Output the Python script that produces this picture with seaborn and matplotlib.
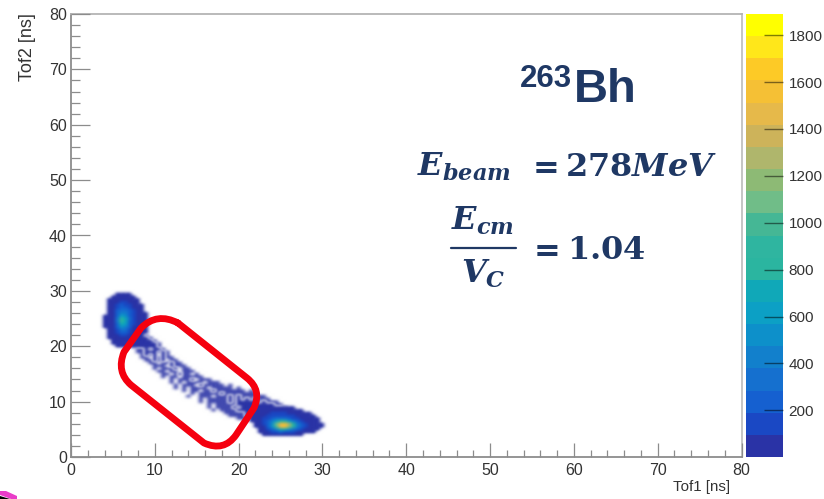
import numpy as np
import matplotlib
matplotlib.use("Agg")
import matplotlib.pyplot as plt
import seaborn as sns
from matplotlib.colors import ListedColormap
from matplotlib.patches import PathPatch, Polygon
from matplotlib.path import Path
from matplotlib.ticker import MultipleLocator
from matplotlib.transforms import Affine2D

tof_ticks = [0, 10, 20, 30, 40, 50, 60, 70, 80]
count_ticks = [200, 400, 600, 800, 1000, 1200, 1400, 1600, 1800]
count_max = 1890
bin_width = 0.5
pale_limit = 22

# first row is the highest Tof2, rows go down in 0.5 ns steps, columns right in 0.5 ns steps
blob1_tof1 = 4.0
blob1_tof2 = 29.5
blob1_counts = [
    [0, 0, 0, 4, 6, 6, 3, 0, 0, 0, 0, 0],
    [0, 0, 8, 25, 30, 28, 15, 6, 0, 0, 0, 0],
    [0, 2, 20, 60, 75, 70, 45, 18, 3, 0, 0, 0],
    [0, 4, 35, 95, 130, 120, 80, 40, 10, 0, 0, 0],
    [0, 6, 50, 130, 200, 180, 120, 60, 20, 3, 0, 0],
    [0, 8, 60, 160, 270, 250, 160, 80, 30, 6, 0, 0],
    [0, 12, 70, 200, 350, 330, 200, 100, 40, 10, 0, 0],
    [0, 15, 80, 240, 460, 430, 240, 115, 50, 15, 2, 0],
    [1, 18, 85, 270, 600, 560, 270, 125, 55, 20, 4, 0],
    [2, 20, 90, 290, 780, 700, 290, 130, 60, 25, 5, 0],
    [2, 20, 90, 290, 820, 720, 280, 125, 60, 25, 6, 0],
    [2, 18, 85, 270, 720, 600, 250, 110, 55, 25, 6, 0],
    [1, 15, 75, 230, 520, 440, 200, 95, 50, 25, 6, 0],
    [0, 12, 60, 180, 340, 290, 160, 80, 45, 20, 4, 0],
    [0, 8, 45, 130, 220, 190, 120, 65, 35, 15, 0, 0],
    [0, 5, 30, 90, 140, 120, 85, 50, 25, 8, 0, 0],
    [0, 2, 18, 60, 85, 80, 55, 35, 15, 0, 0, 0],
    [0, 0, 8, 30, 50, 48, 35, 20, 8, 0, 0, 0],
    [0, 0, 2, 12, 22, 25, 18, 10, 0, 0, 0, 0],
    [0, 0, 0, 2, 6, 8, 5, 2, 0, 0, 0, 0],
]

blob2_tof1 = 21.5
blob2_tof2 = 9.0
blob2_counts = [
    [0, 0, 0, 3, 10, 15, 18, 16, 12, 6, 2, 0],
    [0, 2, 15, 30, 45, 55, 60, 58, 48, 32, 20, 8, 2, 0],
    [3, 12, 45, 70, 95, 110, 120, 118, 105, 85, 60, 40, 22, 10, 3, 0],
    [5, 25, 70, 95, 120, 150, 175, 180, 165, 135, 105, 80, 55, 32, 15, 5, 0],
    [4, 20, 75, 110, 170, 260, 340, 370, 330, 260, 180, 125, 90, 60, 35, 15, 4, 0],
    [2, 12, 60, 120, 240, 420, 640, 780, 760, 600, 400, 230, 135, 90, 55, 30, 10, 0],
    [0, 5, 40, 110, 260, 560, 1040, 1480, 1560, 1280, 820, 460, 230, 120, 75, 45, 20, 3],
    [0, 2, 25, 85, 210, 500, 980, 1440, 1520, 1220, 780, 430, 210, 110, 65, 40, 20, 4],
    [0, 0, 10, 50, 120, 270, 470, 670, 680, 530, 350, 200, 110, 65, 40, 22, 8, 0],
    [0, 0, 2, 18, 55, 100, 150, 190, 185, 150, 105, 70, 45, 28, 14, 4, 0],
    [0, 0, 0, 2, 10, 22, 35, 40, 38, 30, 20, 12, 6, 0],
]

band_tof2 = 23.0
band_tof1 = [8.0, 8.0, 7.5, 7.5, 7.5, 7.5, 7.5, 8.0, 8.0, 8.5, 8.5, 9.0, 9.5, 9.5, 10.0, 10.5, 10.5, 11.0,
             11.5, 12.0, 12.0, 12.5, 13.0, 13.5, 14.0, 14.5, 15.0, 15.5, 16.0, 17.0, 18.0, 19.0, 20.0]
band_counts = [
    [30, 20],
    [40, 30, 25],
    [25, 45, 35, 20],
    [30, 40, 50, 35, 15],
    [15, 35, 55, 40, 30, 10],
    [12, 30, 45, 50, 30, 22, 6],
    [5, 25, 30, 45, 35, 25, 12],
    [12, 20, 40, 15, 35, 25, 8],
    [3, 18, 30, 22, 35, 10, 25, 4],
    [8, 25, 12, 30, 0, 28, 15],
    [2, 12, 0, 25, 18, 30, 8, 10],
    [6, 15, 22, 5, 30, 0, 18, 3],
    [2, 10, 0, 20, 12, 25, 6, 14],
    [0, 5, 14, 8, 0, 25, 15, 3, 6],
    [3, 0, 12, 18, 6, 22, 0, 15, 2],
    [2, 8, 0, 20, 10, 0, 18, 8, 4],
    [0, 6, 12, 0, 15, 22, 4, 14, 0, 5],
    [2, 0, 8, 14, 0, 18, 10, 20, 3, 8],
    [0, 5, 0, 12, 16, 3, 22, 0, 14, 6, 2],
    [2, 0, 7, 0, 15, 8, 20, 12, 0, 16, 4, 6],
    [0, 3, 0, 10, 4, 18, 0, 22, 10, 14, 3, 8, 2, 0, 3],
    [2, 0, 5, 0, 12, 6, 18, 14, 0, 20, 8, 15, 3, 6, 0, 2],
    [0, 2, 0, 6, 10, 0, 16, 8, 22, 12, 18, 4, 14, 6, 2, 5, 0, 2],
    [0, 0, 3, 0, 8, 12, 4, 18, 10, 24, 14, 20, 8, 16, 5, 8, 2, 3],
    [2, 0, 0, 5, 3, 10, 0, 14, 20, 9, 26, 16, 28, 12, 20, 8, 12, 4, 2],
    [0, 0, 3, 0, 6, 12, 8, 18, 14, 28, 20, 32, 18, 26, 14, 22, 8, 10, 3],
    [0, 2, 0, 4, 8, 5, 14, 10, 24, 18, 34, 28, 40, 25, 34, 18, 26, 12, 8, 2],
    [0, 0, 3, 0, 6, 10, 8, 20, 16, 30, 26, 42, 36, 48, 34, 42, 26, 30, 14, 10],
    [0, 2, 0, 4, 6, 12, 10, 24, 20, 36, 32, 50, 44, 55, 46, 50, 36, 38, 22, 14],
    [2, 0, 4, 8, 14, 12, 28, 24, 42, 38, 55, 50, 62, 55, 58, 45, 40, 25],
    [0, 3, 6, 10, 20, 18, 34, 32, 50, 48, 60, 58, 65, 60, 50, 30],
    [2, 5, 10, 16, 28, 30, 44, 48, 58, 60, 66, 60, 40, 22],
    [3, 8, 16, 24, 38, 45, 55, 60, 55, 40, 20],
]

band_colors = ["#2a33a6", "#1a48c4", "#1560d0", "#1570cf", "#1280cc", "#0d90ca", "#0ca0c5", "#10a8b8", "#2bb5a0",
               "#2fb5a0", "#45b795", "#70bd88", "#8dba75", "#afb66c", "#cdb35a", "#e6b94a", "#f5c035", "#fdca26",
               "#ffe71a", "#ffff00"]
navy = "#1f3864"

# outline of the red box, in reference pixels
box_points = [(178, 323), (247, 378), (262, 390), (254, 408), (236, 435), (224, 452), (204, 443),
              (131, 385), (116, 372), (124, 352), (141, 328), (157, 312), (178, 323)]
box_codes = [Path.MOVETO, Path.LINETO, Path.CURVE3, Path.CURVE3, Path.LINETO, Path.CURVE3, Path.CURVE3,
             Path.LINETO, Path.CURVE3, Path.CURVE3, Path.LINETO, Path.CURVE3, Path.CURVE3]


def add_cells(grid, tof1, tof2, counts):
    row = int(round(tof2 / bin_width))
    col = int(round(tof1 / bin_width))
    for values in counts:
        for i, value in enumerate(values):
            grid[row, col + i] = max(grid[row, col + i], value)
        row -= 1


def soften(image, dpi):
    # the reference is a blurry screenshot, so the histogram gets a small blur too
    alpha = image[..., 3:]
    out = np.concatenate([image[..., :3] * alpha, alpha], axis=2)
    pad = 4
    out = np.pad(out, ((pad, pad), (pad, pad), (0, 0)))
    weights = {-2: 1 / 16, -1: 4 / 16, 0: 6 / 16, 1: 4 / 16, 2: 1 / 16}
    for axis in (0, 1):
        out = sum(w * np.roll(out, s, axis=axis) for s, w in weights.items())
    alpha = np.clip(out[..., 3:], 1e-4, 1)
    out = np.concatenate([np.clip(out[..., :3] / alpha, 0, 1), out[..., 3:]], axis=2)
    return out, -pad, -pad


sns.set_theme(style="white", font="Liberation Sans")

band_grid = np.zeros((160, 160))
for i, values in enumerate(band_counts):
    add_cells(band_grid, band_tof1[i], band_tof2 - i * bin_width, [values])

grid = np.zeros((160, 160))
add_cells(grid, blob1_tof1, blob1_tof2, blob1_counts)
add_cells(grid, blob2_tof1, blob2_tof2, blob2_counts)
pale_grid = np.where(band_grid < pale_limit, band_grid, 0)
grid = np.maximum(grid, np.where(band_grid >= pale_limit, band_grid, 0))

fig = plt.figure(figsize=(8.24, 4.99), dpi=100)
ax = fig.add_axes([71 / 824, 42 / 499, 670.5 / 824, 443 / 499])
cax = fig.add_axes([745.7 / 824, 42 / 499, 37.3 / 824, 443 / 499])

# sparse part of the band first, so it comes out paler under the main histogram
pale_cmap = ListedColormap(band_colors)
pale_cmap.set_under("white")
sns.heatmap(pale_grid, ax=ax, cbar=False, cmap=pale_cmap, vmin=1, vmax=count_max, xticklabels=False,
            yticklabels=False, shading="gouraud", alpha=0.65)
cmap = ListedColormap(band_colors)
cmap.set_under((1, 1, 1, 0))
sns.heatmap(grid, ax=ax, cbar_ax=cax, cmap=cmap, vmin=1, vmax=count_max, xticklabels=False, yticklabels=False,
            shading="gouraud", cbar_kws={"ticks": count_ticks})
for mesh in ax.collections:
    mesh.set_transform(Affine2D().scale(bin_width) + ax.transData)
    mesh.set_agg_filter(soften)

ax.set_xlim(0, 80)
ax.set_ylim(0, 80)
ax.set_axisbelow(False)
ax.set_xticks(tof_ticks)
ax.set_yticks(tof_ticks)
ax.set_xticklabels([str(t) for t in tof_ticks])
ax.set_yticklabels([str(t) for t in tof_ticks])
ax.xaxis.set_minor_locator(MultipleLocator(2))
ax.yaxis.set_minor_locator(MultipleLocator(2))

for side, color in [("left", "#8c8c8c"), ("bottom", "#8c8c8c"), ("top", "#b4b4b4"), ("right", "#c0c0c0")]:
    ax.spines[side].set_visible(True)
    ax.spines[side].set_color(color)
    ax.spines[side].set_linewidth(1.3)

ax.tick_params(axis="x", which="major", direction="in", length=10, width=0.9, color="#8c8c8c", bottom=True,
               labelsize=11.5, labelcolor="#333333", pad=4)
ax.tick_params(axis="x", which="minor", direction="in", length=5, width=0.9, color="#8c8c8c", bottom=True)
ax.tick_params(axis="y", which="major", direction="in", length=13.5, width=0.9, color="#8c8c8c", left=True,
               labelsize=11.5, labelcolor="#333333", pad=3, labelrotation=0)
ax.tick_params(axis="y", which="minor", direction="in", length=6.5, width=0.9, color="#8c8c8c", left=True)

cbar = ax.collections[-1].colorbar
cbar.outline.set_visible(False)
cbar.ax.set_axisbelow(False)
cbar.ax.tick_params(direction="in", length=14, width=1.0, color="#00000080", right=True, labelsize=11,
                    labelcolor="#333333", pad=4)
cbar.ax.set_yticklabels([str(t) for t in count_ticks])

ref_px = Affine2D().scale(1 / 824, -1 / 499).translate(0, 1) + fig.transFigure
fig.text(730 / 824, 1 - 487 / 499, "Tof1 [ns]", ha="right", va="center", fontsize=10.8, color="#333333")
fig.text(28 / 824, 1 - 13 / 499, "Tof2 [ns]", ha="center", va="top", rotation=90, fontsize=13, color="#333333")

ax.add_patch(PathPatch(Path(box_points, box_codes), transform=ref_px, fill=False, edgecolor="#f5000f", linewidth=4.9,
                       capstyle="round", joinstyle="round", clip_on=False))

# corner of a neighbouring drawing cut off by the picture edge
fig.add_artist(Polygon([(0, 491), (6, 491), (17, 496), (17, 499), (11, 499), (0, 495)], transform=ref_px,
                       facecolor="#e93cc8", edgecolor="none"))
fig.add_artist(Polygon([(0, 496), (10, 499), (0, 499)], transform=ref_px, facecolor="black", edgecolor="none"))

plt.rcParams["mathtext.fontset"] = "custom"
plt.rcParams["mathtext.rm"] = "DejaVu Serif:bold"
plt.rcParams["mathtext.bf"] = "DejaVu Serif:bold"
plt.rcParams["mathtext.it"] = "DejaVu Serif:italic:bold"
plt.rcParams["mathtext.bfit"] = "DejaVu Serif:italic:bold"

fig.text(574 / 824, 1 - 102 / 499, "Bh", color=navy, fontsize=34, fontweight="bold", ha="left", va="baseline")
fig.text(572 / 824, 1 - 87 / 499, "263", color=navy, fontsize=22.5, fontweight="bold", ha="right", va="baseline")
fig.text(417 / 824, 1 - 176 / 499, r"$E_{beam}$", color=navy, fontsize=23, ha="left", va="baseline")
fig.text(526 / 824, 1 - 176 / 499, r"$=$", color=navy, fontsize=23, ha="left", va="baseline")
fig.text(565 / 824, 1 - 176 / 499, r"$\mathbf{278}MeV$", color=navy, fontsize=23, ha="left", va="baseline")
fig.text(483 / 824, 1 - 230 / 499, r"$E_{cm}$", color=navy, fontsize=23, ha="center", va="baseline")
fig.text(483 / 824, 1 - 283 / 499, r"$V_{C}$", color=navy, fontsize=23, ha="center", va="baseline")
fig.add_artist(plt.Line2D([451 / 824, 516 / 824], [1 - 248 / 499] * 2, color=navy, linewidth=1.6))
fig.text(527 / 824, 1 - 259 / 499, r"$=$", color=navy, fontsize=23, ha="left", va="baseline")
fig.text(567 / 824, 1 - 259 / 499, r"$\mathbf{1.04}$", color=navy, fontsize=23, ha="left", va="baseline")

fig.savefig("out.png", dpi=100)
